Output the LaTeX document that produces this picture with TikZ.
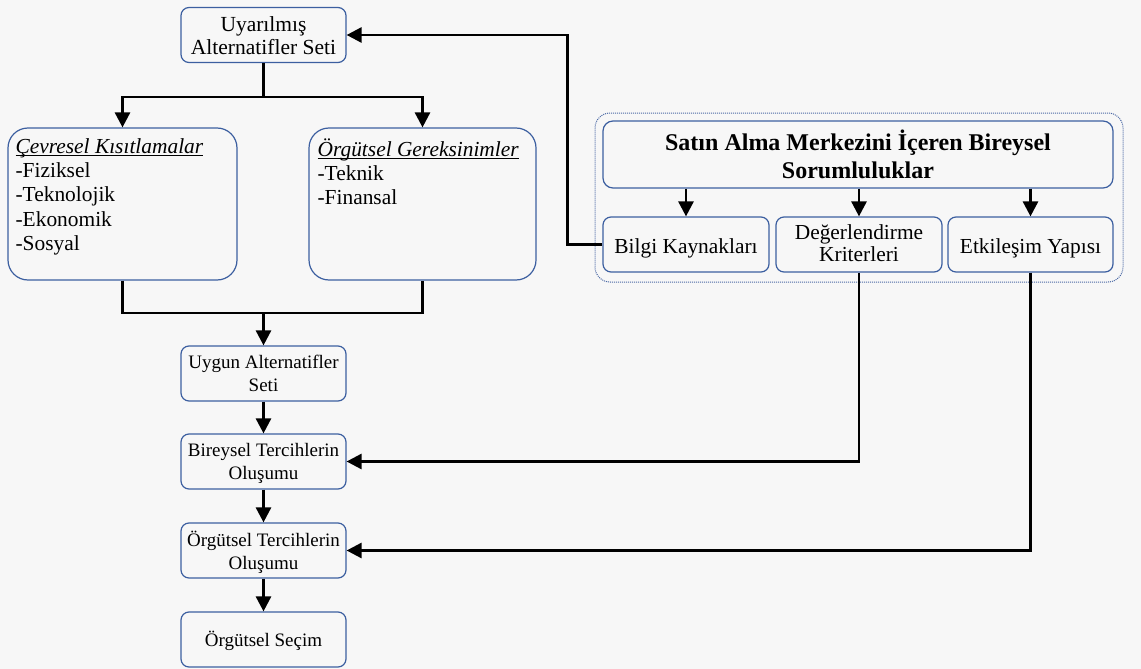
\documentclass[tikz,border=0pt]{standalone}
\usepackage{fontspec}
\setmainfont{Liberation Serif}
\usetikzlibrary{arrows.meta}

\definecolor{bg}{RGB}{247,247,247}
\definecolor{bdr}{RGB}{60,95,160}
\definecolor{grpc}{RGB}{75,105,165}

% underline set a little below the baseline
\newcommand\ulbox[1]{\setbox0\hbox{#1}\rlap{\rule[-2.6pt]{\wd0}{0.9pt}}\box0}

\tikzset{
  box/.style={draw=bdr, line width=1.2pt, fill=bg, rounded corners=8pt,
    minimum width=165pt, minimum height=55pt, inner sep=0pt},
  bigbox/.style={box, rounded corners=20pt},
  grpbox/.style={draw=grpc, line width=1pt, dash pattern=on 1pt off 1pt,
    rounded corners=15pt, minimum width=528pt, minimum height=169pt, inner sep=0pt},
  txt/.style={inner sep=0pt, align=center,
    execute at begin node=\strut, execute at end node=\strut},
  lowtxt/.style={txt, font=\fontsize{19}{22.5}\selectfont},
  uptxt/.style={txt, font=\fontsize{21.4}{23}\selectfont},
  listtxt/.style={inner sep=0pt, align=left, anchor=north west,
    font=\fontsize{21.4}{24.2}\selectfont, execute at begin node=\strut},
  titletxt/.style={txt, font=\fontsize{24}{28}\selectfont\bfseries},
  conn/.style={line width=2.7pt, black},
  arr/.style={conn, -{Triangle[width=15pt,length=15pt]}},
}

\begin{document}
\begin{tikzpicture}[x=1pt,y=-1pt]
  \useasboundingbox (0,0) rectangle (1141,669);
  \fill[bg] (0,0) rectangle (1141,669);

  % left column
  \node[box] (top) at (263.5,35) {};
  \node[uptxt, font=\fontsize{21.5}{23.3}\selectfont] (topt) at ([yshift=-3.7pt]top.center) {Uyarılmış\\Alternatifler Seti};

  \node[bigbox, minimum width=229pt, minimum height=152pt] (cev) at (122.5,204) {};
  \node[listtxt] (cevt) at ([xshift=8pt,yshift=-11.06pt]cev.north west)
    {\ulbox{\textit{Çevresel Kısıtlamalar}}\\-Fiziksel\\-Teknolojik\\-Ekonomik\\-Sosyal};

  \node[bigbox, minimum width=227pt, minimum height=152pt] (org) at (422.5,204) {};
  \node[listtxt] (orgt) at ([xshift=9pt,yshift=-11.06pt]org.north west)
    {\ulbox{\textit{Örgütsel Gereksinimler}}\\-Teknik\\-Finansal};

  \node[box] (uyg) at (263.5,373.5) {};
  \node[lowtxt] (uygt) at ([yshift=-3pt]uyg.center) {Uygun Alternatifler\\Seti};

  \node[box] (bir) at (263.5,461.5) {};
  \node[lowtxt] (birt) at ([yshift=-3.3pt]bir.center) {Bireysel Tercihlerin\\Oluşumu};

  \node[box] (ogt) at (263.5,550.5) {};
  \node[lowtxt] (ogtt) at ([yshift=-3.3pt]ogt.center) {Örgütsel Tercihlerin\\Oluşumu};

  \node[box] (sec) at (263.5,639.5) {};
  \node[lowtxt] (sect) at ([yshift=-2pt]sec.center) {Örgütsel Seçim};

  % right group
  \node[grpbox] (grp) at (859,197.5) {};
  \node[box, rounded corners=10pt, minimum width=510pt, minimum height=67pt] (title) at (858,154.5) {};
  \node[titletxt] (titlet) at ([yshift=-4pt]title.center)
    {Satın Alma Merkezini İçeren Bireysel\\Sorumluluklar};

  \node[box, minimum width=166pt] (bilgi) at (686,244.5) {};
  \node[uptxt] (bilgit) at ([yshift=-4pt]bilgi.center) {Bilgi Kaynakları};

  \node[box, minimum width=166pt] (deg) at (859,244.5) {};
  \node[uptxt, font=\fontsize{21.4}{22}\selectfont] (degt) at ([yshift=-2pt]deg.center) {Değerlendirme\\Kriterleri};

  \node[box, minimum width=165pt] (etk) at (1030.5,244.5) {};
  \node[uptxt] (etkt) at ([yshift=-4pt]etk.center) {Etkileşim Yapısı};

  % connectors
  \coordinate (split) at (263.5,97);
  \coordinate (join) at (263.5,313);
  \draw[conn] (top.south) -- (split);
  \draw[arr] (split) -| (cev.north);
  \draw[arr] (split) -| (org.north);
  \draw[conn] (cev.south) |- (join) -| (org.south);
  \draw[arr] (join) -- (uyg.north);
  \draw[arr] (uyg.south) -- (bir.north);
  \draw[arr] (bir.south) -- (ogt.north);
  \draw[arr] (ogt.south) -- (sec.north);

  \draw[arr] (title.south -| bilgi.north) -- (bilgi.north);
  \draw[arr] (title.south -| deg.north) -- (deg.north);
  \draw[arr] (title.south -| etk.north) -- (etk.north);

  \draw[arr] (bilgi.west) -- ++(-35,0) |- (top.east);
  \draw[arr] (deg.south) |- (bir.east);
  \draw[arr] (etk.south) |- (ogt.east);
\end{tikzpicture}
\end{document}
